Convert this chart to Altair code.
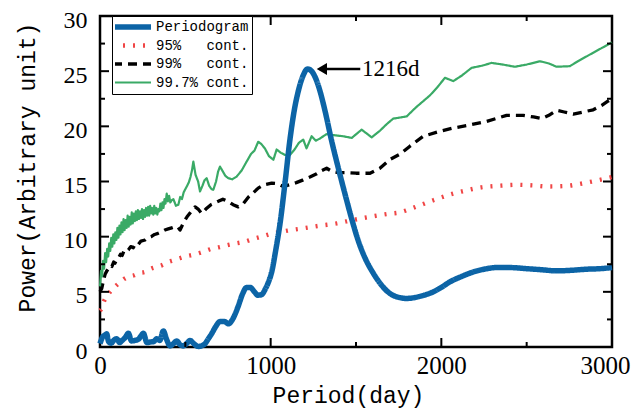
import altair as alt
import pandas as pd

# ---------------- data ----------------
series_names = ["Periodogram", "95%\u00a0\u00a0\u00a0cont.", "99%\u00a0\u00a0\u00a0cont.", "99.7%\u00a0cont."]
series_colors = ["#0c64a6", "#f04545", "#000000", "#3aaa66"]
series_dash = [[1, 0], [2, 8], [9, 6], [1, 0]]
series_width = [5.5, 2.2, 2.2, 2.0]

pg_period = [0, 15, 30, 39, 50, 65, 80, 98, 115, 130, 150, 166, 185, 205, 225, 240, 254, 275, 293, 315,
             332, 350, 371, 390, 410, 430, 449, 470, 488, 510, 527, 550, 576, 600, 615, 635, 654, 680, 703,
             730, 752, 780, 810, 835, 859, 880, 905, 925, 947, 970, 990, 1006, 1030, 1055, 1085, 1113, 1140,
             1162, 1190, 1216, 1240, 1265, 1289, 1320, 1357, 1395, 1435, 1475, 1514, 1555, 1602, 1650, 1699,
             1750, 1797, 1850, 1900, 1953, 2000, 2050, 2120, 2187, 2250, 2324, 2400, 2499, 2590, 2675, 2760,
             2851, 2930, 3000]
pg_power = [0.3, 0.9, 1.1, 1.2, 0.5, 0.35, 0.6, 0.75, 0.4, 0.6, 0.9, 1.25, 0.55, 0.6, 0.7, 1.0, 1.25, 0.4, 0.45, 0.5,
            0.75, 0.6, 1.45, 0.7, 0.1, 0.3, 0.55, 0.2, 0.1, 0.35, 0.6, 0.3, 0.05, 0.15, 0.3, 0.75, 1.2, 1.9, 2.3,
            2.3, 2.1, 2.6, 3.7, 4.8, 5.4, 5.4, 5.0, 4.7, 4.75, 5.3, 6.0, 6.8, 8.8, 11.2, 15.0, 18.8, 21.6,
            23.2, 24.6, 25.2, 25.0, 24.3, 23.2, 21.3, 18.7, 16.3, 13.9, 11.6, 9.6, 8.0, 6.67, 5.6, 4.85,
            4.5, 4.4, 4.5, 4.7, 5.0, 5.4, 5.9, 6.4, 6.8, 7.05, 7.2, 7.2, 7.1, 7.0, 6.9, 6.95,
            7.05, 7.1, 7.2]

c95_period = [0, 10, 25, 45, 68, 90, 120, 145, 166, 200, 230, 264, 300, 330, 361, 400, 430, 459, 500, 557,
              600, 654, 700, 752, 800, 850, 900, 947, 1000, 1050, 1100, 1191, 1290, 1387, 1480, 1582, 1680,
              1757, 1850, 1953, 2070, 2150, 2226, 2330, 2441, 2530, 2616, 2734, 2800, 2851, 2930, 3000]
c95_power = [3.3, 3.5, 4.2, 4.7, 5.15, 5.5, 5.9, 6.2, 6.36, 6.5, 6.7, 6.8, 7.1, 7.25, 7.4, 7.7, 7.85, 8.0, 8.2, 8.4,
             8.6, 8.9, 9.05, 9.25, 9.4, 9.55, 9.8, 10.0, 10.25, 10.4, 10.55, 10.76, 11.0, 11.2, 11.5, 11.8, 12.05,
             12.2, 12.7, 13.3, 13.9, 14.2, 14.45, 14.6, 14.7, 14.65, 14.55, 14.6, 14.75, 14.9, 15.15, 15.4]

c99_period = [0, 10, 20, 30, 40, 50, 60, 70, 80, 88, 100, 110, 120, 130, 140, 150, 166, 180, 195, 210, 225,
              240, 264, 280, 300, 320, 340, 361, 380, 400, 420, 439, 455, 469, 490, 510, 535, 557, 575, 596,
              620, 650, 693, 720, 750, 780, 810, 840, 870, 900, 927, 960, 1006, 1040, 1074, 1110, 1150, 1191,
              1230, 1270, 1300, 1328, 1360, 1400, 1445, 1500, 1582, 1640, 1699, 1760, 1816, 1894, 1980, 2070,
              2160, 2265, 2330, 2382, 2480, 2540, 2588, 2630, 2675, 2720, 2773, 2830, 2890, 2940, 2978, 3000]
c99_power = [5.0, 5.3, 6.0, 6.6, 6.9, 7.1, 7.4, 7.3, 7.7, 7.6, 8.0, 8.1, 8.4, 8.3, 8.7, 8.6, 8.8, 9.1, 9.0, 9.4, 9.3,
             9.6, 9.7, 9.9, 10.0, 10.2, 10.3, 10.45, 10.6, 10.7, 10.8, 10.9, 10.9, 10.6, 11.3, 11.8, 12.3, 12.7, 12.5, 12.1,
             12.5, 12.9, 13.2, 13.4, 13.2, 12.9, 12.7, 13.0, 13.6, 14.0, 14.4, 14.7, 14.85, 14.8, 14.55, 14.7, 14.9, 15.15,
             15.4, 15.7, 16.0, 16.2, 15.9, 15.8, 15.8, 15.75, 15.75, 16.2, 17.0, 17.5, 18.2, 19.1, 19.5, 19.85,
             20.1, 20.45, 20.75, 21.0, 21.0, 20.85, 20.7, 21.0, 21.45, 21.3, 21.1, 21.3, 21.5, 21.9, 22.3, 22.5]

c997_period = [0, 6, 12, 18, 24, 30, 36, 42, 48, 54, 60, 66, 72, 78, 84, 90, 96, 102, 108, 114, 120, 126,
               132, 138, 144, 150, 156, 162, 168, 174, 180, 186, 192, 198, 204, 210, 216, 222, 228, 234, 240,
               246, 252, 258, 264, 270, 276, 282, 288, 294, 300, 306, 312, 318, 324, 330, 336, 342, 348, 354,
               360, 366, 372, 378, 384, 391, 398, 405, 412, 420,
               430, 445, 459, 470, 480, 490, 498, 510, 520, 530, 540, 547,
               560, 575, 586, 600, 612, 625, 640, 654, 664, 680, 692, 703, 720, 735, 752, 775, 801, 830, 859,
               885, 905, 927, 945, 966, 990, 1016, 1035, 1060, 1085, 1113, 1140, 1165, 1191, 1210, 1240, 1265,
               1289, 1328, 1370, 1425, 1475, 1533, 1592, 1640, 1680, 1718, 1760, 1797, 1850, 1933, 1980, 2021,
               2070, 2120, 2177, 2240, 2294, 2360, 2431, 2500, 2578, 2630, 2675, 2753, 2800, 2870, 2940, 2988, 3000]
c997_power = [5.5, 6.9, 6.4, 7.8, 7.1, 8.5, 7.7, 8.9, 8.2, 9.4, 8.7, 9.9, 9.1, 10.2, 9.4, 10.4, 9.7, 10.8, 9.9, 11.0, 10.2, 11.3,
              10.4, 11.6, 10.6, 11.5, 10.8, 11.9, 10.9, 11.8, 11.1, 12.2, 11.2, 12.1, 11.4, 12.3, 11.5, 12.4, 11.6, 12.3, 11.7,
              12.5, 11.6, 12.4, 11.8, 12.6, 11.9, 12.7, 11.9, 12.8, 12.1, 12.6, 12.0, 12.8, 12.1, 12.6, 12.0, 12.5, 12.3, 13.0,
              12.4, 13.1, 12.6, 13.4, 13.0, 13.9, 13.2, 13.7, 13.1, 13.3,
              13.4, 12.8, 12.9, 13.6, 13.4, 14.0, 14.25, 14.6, 14.9, 15.4, 16.1, 16.8,
              15.6, 15.0, 14.1, 14.6, 15.1, 15.3, 14.6, 14.3, 14.25, 15.0, 15.9, 16.35, 15.9, 15.5, 15.3, 15.2, 15.45, 16.0, 16.8,
              17.5, 17.8, 18.6, 18.4, 18.0, 17.3, 16.97, 17.9, 17.6, 17.4, 17.4, 17.9, 18.5, 18.8, 18.0, 19.1, 18.7,
              18.9, 19.3, 19.2, 19.1, 18.95, 19.7, 19.0, 19.6, 20.2, 20.7, 20.8, 20.9, 21.7, 22.8, 23.6, 24.4,
              24.1, 24.6, 25.3, 25.5, 25.75, 25.6, 25.4, 25.6, 25.9, 25.7, 25.4, 25.45, 25.9, 26.5, 27.1, 27.5, 27.6]

x_tick_labels = [0, 1000, 2000, 3000]
y_tick_labels = [0, 5, 10, 15, 20, 25, 30]
x_major = [1000, 2000]
x_minor = [500, 1500, 2500]
y_major = [5, 10, 15, 20, 25]
y_minor = [2.5, 7.5, 12.5, 17.5, 22.5, 27.5]

ann_text = "1216d"
ann_value = 25.2
arrow_tip = 1300
arrow_tail = 1525
text_period = 1535

# ---------------- build ----------------
W, H = 512, 331
SERIF = "'Liberation Serif', 'Times New Roman', 'DejaVu Serif', serif"
MONO = "'Liberation Mono', 'Courier New', monospace"
frames = []
for name, ps, vs in zip(series_names,
                        [pg_period, c95_period, c99_period, c997_period],
                        [pg_power, c95_power, c99_power, c997_power]):
    frames.append(pd.DataFrame({"P": ps, "V": vs, "S": name}))
df = pd.concat(frames, ignore_index=True)

xscale = alt.Scale(domain=[0, 3000], nice=False)
yscale = alt.Scale(domain=[0, 30], nice=False)

x_axis = alt.Axis(values=x_tick_labels, format="d", title="Period(day)", ticks=False, tickSize=0, domain=False,
                  grid=False, labelFont=SERIF, labelFontSize=25, labelPadding=6, labelFlush=False,
                  labelOffset={"condition": {"test": "datum.value == 3000", "value": -7}, "value": 0},
                  labelColor="black", titleFont=MONO, titleFontSize=23, titleFontWeight="normal",
                  titleColor="black", titleX=248, titleY=55, titleBaseline="alphabetic", labelOverlap=False)
y_axis = alt.Axis(values=y_tick_labels, format="d", title="Power(Arbitrary unit)", ticks=False, tickSize=0,
                  domain=False, grid=False, labelFont=SERIF, labelFontSize=24, labelPadding=13,
                  labelFlush=False, labelOffset=4, labelColor="black", titleFont=MONO, titleFontSize=23,
                  titleFontWeight="normal", titleColor="black", titleAngle=270, titleX=-66, titleY=151,
                  titleAlign="center", titleBaseline="alphabetic", labelOverlap=False)

X = lambda f="P:Q": alt.X(f, scale=xscale, axis=x_axis)
Y = lambda f="V:Q": alt.Y(f, scale=yscale, axis=y_axis)

legend = alt.Legend(title=None, orient="none", legendX=12, legendY=0, symbolType="stroke", symbolSize=1444,
                    labelFont=MONO, labelFontSize=14, labelColor="black", padding=3,
                    strokeColor="black", fillColor="white", rowPadding=2.5, clipHeight=16,
                    symbolOffset=-5, labelOffset=2, labelLimit=0)

enc = dict(
    x=X(),
    y=Y(),
    color=alt.Color("S:N", scale=alt.Scale(domain=series_names, range=series_colors), legend=legend),
    strokeDash=alt.StrokeDash("S:N", scale=alt.Scale(domain=series_names, range=series_dash)),
    strokeWidth=alt.StrokeWidth("S:N", scale=alt.Scale(domain=series_names, range=series_width)),
)

draw_order = [(series_names[1], "monotone"), (series_names[2], "linear"),
              (series_names[3], "linear"), (series_names[0], "monotone")]
line_layers = [
    alt.Chart(df).transform_filter(alt.datum.S == name)
    .mark_line(strokeJoin="round", interpolate=interp).encode(**enc)
    for name, interp in draw_order
]

def hticks(vals, length, top):
    y1 = 0 if top else H
    y2 = length if top else H - length
    return alt.Chart(pd.DataFrame({"P": vals})).mark_rule(color="black", strokeWidth=2).encode(
        x=X(), y=alt.value(y1), y2=alt.value(y2))

def vticks(vals, length, right):
    x1 = W if right else 0
    x2 = W - length if right else length
    return alt.Chart(pd.DataFrame({"V": vals})).mark_rule(color="black", strokeWidth=2).encode(
        y=Y(), x=alt.value(x1), x2=alt.value(x2))

tick_layers = [
    hticks(x_major, 9, False), hticks(x_minor, 5, False), hticks(x_major, 9, True), hticks(x_minor, 5, True),
    vticks(y_major, 9, False), vticks(y_minor, 5, False), vticks(y_major, 9, True), vticks(y_minor, 5, True),
]

arrow_df = pd.DataFrame({"P": [arrow_tip], "P2": [arrow_tail], "V": [ann_value]})
arrow_line = alt.Chart(arrow_df).mark_rule(color="black", strokeWidth=2.5).encode(
    x=X(), x2="P2:Q", y=Y())
arrow_head = alt.Chart(arrow_df).mark_point(shape="triangle-left", filled=True, size=140, color="black",
                                            opacity=1).encode(x=X(), y=Y())
text_df = pd.DataFrame({"P": [text_period], "V": [ann_value], "T": [ann_text]})
ann_label = alt.Chart(text_df).mark_text(align="left", baseline="middle", font=SERIF, fontSize=23,
                                         color="black").encode(x=X(), y=Y(), text="T:N")

chart = alt.layer(*line_layers, *tick_layers, arrow_line, arrow_head, ann_label).properties(
    width=W, height=H,
    background="white",
    autosize=alt.AutoSizeParams(type="none"),
    padding={"left": 92, "top": 8, "right": 20, "bottom": 62},
).configure_view(stroke="black", strokeWidth=2.5).configure_axis(
    labelFont=SERIF, titleFont=MONO
).configure_legend(labelFont=MONO)

chart.save("out.html", embed_options={"renderer": "svg", "actions": False})
